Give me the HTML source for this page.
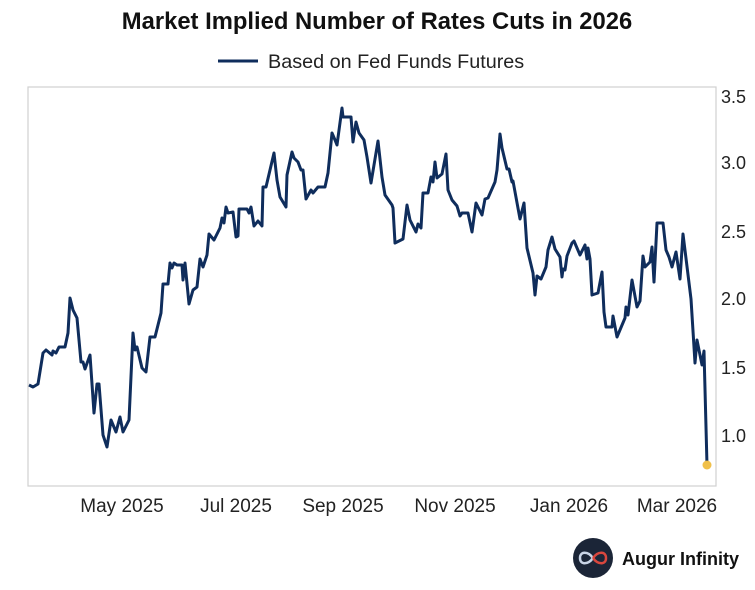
<!DOCTYPE html>
<html><head><meta charset="utf-8"><style>
body{margin:0;background:#fff;}
svg{display:block;font-family:"Liberation Sans",sans-serif;}
</style></head><body>
<svg width="755" height="590" viewBox="0 0 755 590">
<rect width="755" height="590" fill="#fff"/>
<text x="377" y="29" text-anchor="middle" font-size="23.8" font-weight="bold" fill="#111">Market Implied Number of Rates Cuts in 2026</text>
<line x1="218" y1="61" x2="258" y2="61" stroke="#0f2d5c" stroke-width="3"/>
<text x="268" y="68" font-size="19.8" fill="#222">Based on Fed Funds Futures</text>
<rect x="28" y="87" width="688" height="399" fill="#fff" stroke="#d0d0d0" stroke-width="1.2"/>
<g font-size="18" fill="#222">
<text x="721" y="103">3.5</text>
<text x="721" y="169">3.0</text>
<text x="721" y="238">2.5</text>
<text x="721" y="305">2.0</text>
<text x="721" y="374">1.5</text>
<text x="721" y="442">1.0</text>
</g>
<g font-size="19" fill="#222" text-anchor="middle">
<text x="122" y="512">May 2025</text>
<text x="236" y="512">Jul 2025</text>
<text x="343" y="512">Sep 2025</text>
<text x="455" y="512">Nov 2025</text>
<text x="569" y="512">Jan 2026</text>
<text x="677" y="512">Mar 2026</text>
</g>
<polyline fill="none" stroke="#0f2d5c" stroke-width="3" stroke-linejoin="round" points="29,385 33,387 38,384 43,353 46,350 52,355 53,351 56,353 59,347 65,347 68,333 70,298 73,310 77,318 81,362 83,362 85,369 90,355 94,413 97,384 99,384 103,435 107,447 111,420 116,432 120,417 123,432 129,420 133,333 135,350 137,347 142,368 146,372 150,337 155,337 161,313 163,284 168,284 170,263 172,268 174,263 177,265 182,265 183,280 185,263 189,304 193,290 197,287 200,259 203,267 207,255 209,234 214,240 220,228 222,218 224,223 226,207 228,213 233,212 236,237 238,236 239,209 247,209 249,213 251,207 254,226 258,221 262,226 263,187 266,187 274,153 277,180 280,197 286,207 287,175 292,152 294,158 298,162 301,170 303,170 306,199 311,190 313,193 318,187 325,187 328,173 332,133 335,140 337,145 342,108 343,117 351,117 353,142 356,122 359,133 364,140 367,157 371,183 378,141 382,177 385,195 392,205 393,208 395,243 403,239 407,205 410,220 416,232 418,224 421,228 423,193 428,193 431,177 433,182 435,162 437,178 442,174 446,154 448,190 452,200 457,206 460,216 462,213 468,213 472,232 476,203 482,215 485,199 488,198 495,182 497,170 500,134 502,148 507,169 509,169 512,182 513,181 520,219 524,203 527,248 533,273 535,295 537,276 541,279 546,267 548,250 552,237 555,249 560,257 562,277 563,269 565,270 567,256 572,243 574,241 577,248 580,255 585,245 587,259 588,248 590,259 592,295 598,293 602,272 604,312 606,327 612,327 613,316 617,337 625,318 626,307 628,315 632,280 637,307 640,301 643,256 645,267 650,262 652,247 654,282 657,223 663,223 666,250 669,257 672,267 676,252 680,279 683,234 691,299 695,363 697,340 702,365 704,351 707,465"/>
<circle cx="707" cy="465" r="4.5" fill="#f0c04a"/>
<circle cx="593" cy="558" r="20" fill="#1b2537"/>
<g fill="none" stroke-width="2.5">
<path d="M593,558 C588,551 580,551 580,558 C580,565 588,565 593,558" stroke="#c9d4e6"/>
<path d="M593,558 C598,551 606,551 606,558 C606,565 598,565 593,558" stroke="#d9473e"/>
</g>
<text x="622" y="565" font-size="18" font-weight="bold" fill="#111">Augur Infinity</text>
</svg>
</body></html>
